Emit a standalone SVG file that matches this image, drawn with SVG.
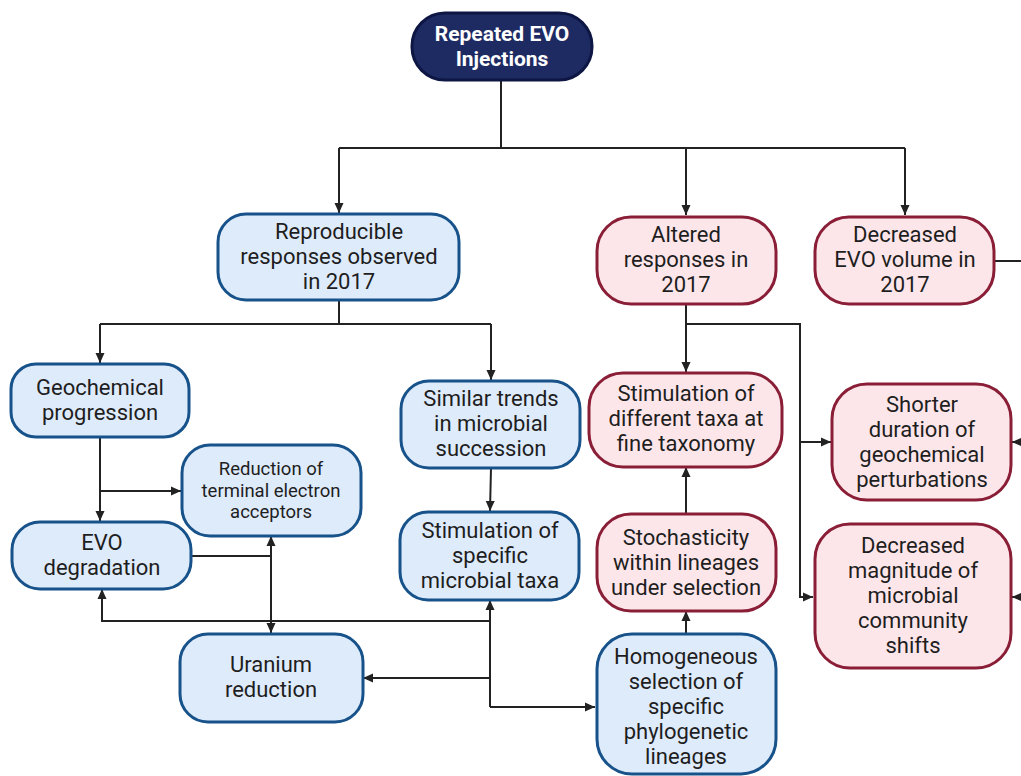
<svg xmlns="http://www.w3.org/2000/svg" width="1021" height="776" viewBox="0 0 1021 776">
<defs>
<marker id="ah" viewBox="0 0 10 10" refX="10" refY="5" markerWidth="10" markerHeight="10" markerUnits="userSpaceOnUse" orient="auto-start-reverse">
<path d="M0,0.5 L10,5 L0,9.5 z" fill="#222"/>
</marker>
<style>
.blue rect{fill:#deebfb;stroke:#17528a;stroke-width:3}
.pink rect{fill:#fde6ea;stroke:#8a1e37;stroke-width:3}
.navy rect{fill:#1e2b63;stroke:#0e1744;stroke-width:3}
text{font-family:Roboto,"Liberation Sans",sans-serif;font-size:22px;fill:#1e1e1e;text-anchor:middle}
.small text{font-size:18.5px}
.navy text{fill:#fff;font-weight:bold;font-size:21px}
.conn path{fill:none;stroke:#222;stroke-width:2}
.arr{marker-end:url(#ah)}
</style>
</defs>
<rect width="1021" height="776" fill="#fff"/>
<g class="conn">
<path d="M501,80 V148 M339,148 H905"/>
<path class="arr" d="M339,148 V213"/>
<path class="arr" d="M686,148 V215"/>
<path class="arr" d="M905,148 V215"/>
<path d="M339,300 V324 M100,324 H491"/>
<path class="arr" d="M100,324 V363"/>
<path class="arr" d="M491,324 V380"/>
<path class="arr" d="M491,468 L490,511"/>
<path class="arr" d="M100,437 V521"/>
<path class="arr" d="M100,491 H181"/>
<path d="M191,556 H271"/>
<path class="arr" d="M271,585 V536"/>
<path class="arr" d="M271,585 V633"/>
<path class="arr" d="M490,707 V600"/>
<path class="arr" d="M490,707 H595"/>
<path class="arr" d="M490,621 H102 V589"/>
<path class="arr" d="M490,678 H363"/>
<path class="arr" d="M686,304 V372"/>
<path class="arr" d="M686,324 H800 V597 H813"/>
<path class="arr" d="M800,442 H831"/>
<path class="arr" d="M686,514 V467"/>
<path class="arr" d="M686,634 V611"/>
<path d="M994,261 H1021"/>
<path class="arr" d="M1025,442 H1012"/>
<path class="arr" d="M1025,597 H1012"/>
</g>
<g id="n-repeated" class="navy">
<rect x="412" y="13" width="180" height="67" rx="33"/>
<text x="502" y="41">Repeated EVO</text>
<text x="502" y="66">Injections</text>
</g>
<g id="n-reproducible" class="blue">
<rect x="218" y="214" width="241" height="86" rx="28"/>
<text x="339" y="239">Reproducible</text>
<text x="339" y="264">responses observed</text>
<text x="339" y="289">in 2017</text>
</g>
<g id="n-altered" class="pink">
<rect x="597" y="217" width="179" height="87" rx="34"/>
<text x="686" y="242">Altered</text>
<text x="686" y="267">responses in</text>
<text x="686" y="292">2017</text>
</g>
<g id="n-decreased-evo" class="pink">
<rect x="815" y="217" width="179" height="87" rx="34"/>
<text x="905" y="242">Decreased</text>
<text x="905" y="267">EVO volume in</text>
<text x="905" y="292">2017</text>
</g>
<g id="n-geochemical" class="blue">
<rect x="11" y="364" width="178" height="73" rx="25"/>
<text x="100" y="395">Geochemical</text>
<text x="100" y="420">progression</text>
</g>
<g id="n-similar" class="blue">
<rect x="401" y="381" width="179" height="87" rx="28"/>
<text x="491" y="406">Similar trends</text>
<text x="491" y="431">in microbial</text>
<text x="491" y="456">succession</text>
</g>
<g id="n-stim-different" class="pink">
<rect x="589" y="373" width="193" height="94" rx="34"/>
<text x="686" y="401">Stimulation of</text>
<text x="686" y="426">different taxa at</text>
<text x="686" y="451">fine taxonomy</text>
</g>
<g id="n-shorter" class="pink">
<rect x="832" y="384" width="179" height="116" rx="35"/>
<text x="922" y="412">Shorter</text>
<text x="922" y="437">duration of</text>
<text x="922" y="462">geochemical</text>
<text x="922" y="487">perturbations</text>
</g>
<g id="n-reduction" class="blue small">
<rect x="182" y="445" width="179" height="91" rx="28"/>
<text x="271" y="475">Reduction of</text>
<text x="271" y="497">terminal electron</text>
<text x="271" y="518">acceptors</text>
</g>
<g id="n-evo-degradation" class="blue">
<rect x="12" y="522" width="179" height="67" rx="28"/>
<text x="102" y="550">EVO</text>
<text x="102" y="575">degradation</text>
</g>
<g id="n-stim-specific" class="blue">
<rect x="400" y="512" width="179" height="88" rx="28"/>
<text x="490" y="538">Stimulation of</text>
<text x="490" y="563">specific</text>
<text x="490" y="588">microbial taxa</text>
</g>
<g id="n-stochasticity" class="pink">
<rect x="597" y="514" width="179" height="97" rx="34"/>
<text x="686" y="545">Stochasticity</text>
<text x="686" y="570">within lineages</text>
<text x="686" y="595">under selection</text>
</g>
<g id="n-decreased-mag" class="pink">
<rect x="815" y="524" width="196" height="144" rx="35"/>
<text x="913" y="553">Decreased</text>
<text x="913" y="578">magnitude of</text>
<text x="913" y="603">microbial</text>
<text x="913" y="628">community</text>
<text x="913" y="653">shifts</text>
</g>
<g id="n-uranium" class="blue">
<rect x="180" y="634" width="183" height="88" rx="28"/>
<text x="271" y="672">Uranium</text>
<text x="271" y="697">reduction</text>
</g>
<g id="n-homogeneous" class="blue">
<rect x="597" y="634" width="179" height="140" rx="35"/>
<text x="686" y="664">Homogeneous</text>
<text x="686" y="689">selection of</text>
<text x="686" y="714">specific</text>
<text x="686" y="739">phylogenetic</text>
<text x="686" y="764">lineages</text>
</g>
</svg>
